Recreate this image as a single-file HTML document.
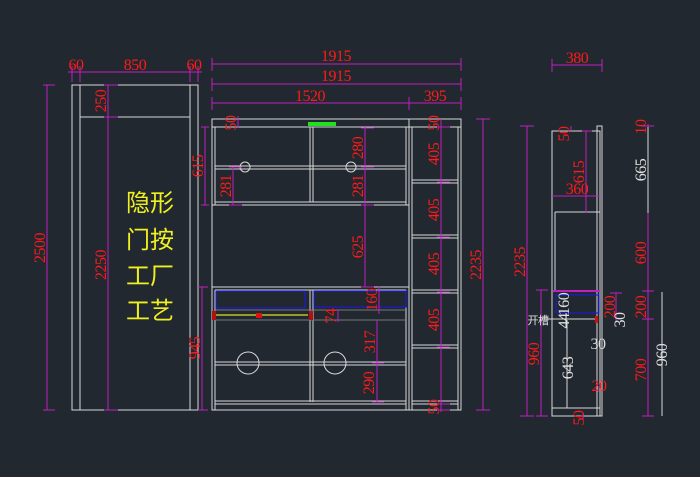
<!DOCTYPE html>
<html><head><meta charset="utf-8"><style>
html,body{margin:0;padding:0;background:#212830;}
svg{display:block}
.w{stroke:#d8d8d8;stroke-width:1;fill:none}
.m{stroke:#c020c0;stroke-width:1;fill:none}
.t{fill:#ff1a1a;font-family:"Liberation Serif",serif;font-size:16px;text-anchor:middle;letter-spacing:-0.5px}
.g{fill:#e0e0e0;font-family:"Liberation Serif",serif;font-size:16px;text-anchor:middle;letter-spacing:-0.5px}
.y{fill:#f0f020;font-family:"Liberation Sans","Noto Sans CJK SC",sans-serif;font-size:24px}
</style></head><body>
<svg width="700" height="477" viewBox="0 0 700 477" xmlns="http://www.w3.org/2000/svg">
<rect width="700" height="477" fill="#212830"/>
<!-- LEFT DOOR -->
<rect class="w" x="72" y="85" width="126" height="325"/>
<line class="w" x1="80" y1="85" x2="80" y2="410"/>
<line class="w" x1="190" y1="85" x2="190" y2="410"/>
<line class="w" x1="80" y1="117" x2="190" y2="117"/>
<g class="m">
<line x1="68" y1="72" x2="202" y2="72"/>
<line x1="72" y1="66" x2="72" y2="82"/><line x1="80" y1="66" x2="80" y2="82"/>
<line x1="190" y1="66" x2="190" y2="82"/><line x1="198" y1="66" x2="198" y2="82"/>
<line x1="47" y1="85" x2="47" y2="410"/><line x1="43" y1="85" x2="55" y2="85"/><line x1="43" y1="410" x2="55" y2="410"/>
<line x1="108" y1="85" x2="108" y2="410"/><line x1="104" y1="85" x2="118" y2="85"/><line x1="104" y1="117" x2="118" y2="117"/><line x1="104" y1="410" x2="118" y2="410"/>
</g>
<text class="t" x="76" y="70">60</text><text class="t" x="135" y="70">850</text><text class="t" x="194" y="70">60</text>
<text class="t" transform="translate(45,248) rotate(-90)">2500</text>
<text class="t" transform="translate(106,101) rotate(-90)">250</text>
<text class="t" transform="translate(106,265) rotate(-90)">2250</text>
<text class="y" x="126" y="211">隐形</text>
<text class="y" x="126" y="248">门按</text>
<text class="y" x="126" y="284">工厂</text>
<text class="y" x="126" y="319">工艺</text>
<!-- MIDDLE CABINET -->
<rect class="w" x="212" y="119" width="249" height="291"/>
<line class="w" x1="212" y1="127" x2="461" y2="127"/>
<line class="w" x1="409" y1="119" x2="409" y2="410"/>
<line class="w" x1="412" y1="127" x2="412" y2="410"/>
<line class="w" x1="458" y1="127" x2="458" y2="410"/>
<line class="w" x1="215" y1="127" x2="215" y2="205"/>
<line class="w" x1="406" y1="127" x2="406" y2="205"/>
<line class="w" x1="212" y1="205" x2="409" y2="205"/>
<line class="w" x1="215" y1="202" x2="406" y2="202"/>
<line class="w" x1="310" y1="127" x2="310" y2="202"/><line class="w" x1="313" y1="127" x2="313" y2="202"/>
<line class="w" x1="215" y1="166" x2="406" y2="166"/><line class="w" x1="215" y1="169" x2="406" y2="169"/>
<circle class="w" cx="245" cy="167" r="5"/><circle class="w" cx="351" cy="167" r="5"/>
<rect x="308" y="122" width="28" height="4" fill="#20e020"/>
<!-- lower -->
<line class="w" x1="212" y1="287" x2="409" y2="287"/>
<line class="w" x1="215" y1="290" x2="406" y2="290"/>
<line class="w" x1="215" y1="290" x2="215" y2="410"/>
<line class="w" x1="406" y1="290" x2="406" y2="410"/>
<line class="w" x1="310" y1="290" x2="310" y2="402"/><line class="w" x1="313" y1="290" x2="313" y2="402"/>
<rect x="216" y="291" width="89" height="17" fill="none" stroke="#1c1cd0" stroke-width="1.2"/>
<rect x="314" y="291" width="92" height="16" fill="none" stroke="#1c1cd0" stroke-width="1.2"/>
<line x1="215" y1="310" x2="406" y2="310" stroke="#777"/><line x1="215" y1="320" x2="406" y2="320" stroke="#777"/>
<rect x="212" y="311" width="4" height="9" fill="#b01010"/><rect x="309" y="311" width="4" height="9" fill="#b01010"/>
<line x1="216" y1="315" x2="308" y2="315" stroke="#e0e020" stroke-width="1.2"/>
<rect x="256" y="313" width="6" height="5" fill="#e01010"/>
<line class="w" x1="215" y1="362" x2="406" y2="362"/><line class="w" x1="215" y1="365" x2="406" y2="365"/>
<circle class="w" cx="248" cy="363" r="11"/><circle class="w" cx="335" cy="363" r="11"/>
<line class="w" x1="215" y1="401" x2="406" y2="401"/><line class="w" x1="215" y1="404" x2="406" y2="404"/>
<!-- right column shelves -->
<g class="w">
<line x1="412" y1="180" x2="458" y2="180"/><line x1="412" y1="183" x2="458" y2="183"/>
<line x1="412" y1="235" x2="458" y2="235"/><line x1="412" y1="238" x2="458" y2="238"/>
<line x1="412" y1="290" x2="458" y2="290"/><line x1="412" y1="293" x2="458" y2="293"/>
<line x1="412" y1="345" x2="458" y2="345"/><line x1="412" y1="348" x2="458" y2="348"/>
<line x1="412" y1="401" x2="458" y2="401"/><line x1="412" y1="404" x2="458" y2="404"/>
</g>
<!-- dims middle -->
<g class="m">
<line x1="212" y1="64" x2="461" y2="64"/><line x1="212" y1="58" x2="212" y2="71"/><line x1="461" y1="58" x2="461" y2="71"/>
<line x1="212" y1="84" x2="461" y2="84"/><line x1="212" y1="78" x2="212" y2="91"/><line x1="461" y1="78" x2="461" y2="91"/>
<line x1="212" y1="103" x2="461" y2="103"/><line x1="212" y1="97" x2="212" y2="110"/><line x1="409" y1="97" x2="409" y2="110"/><line x1="461" y1="97" x2="461" y2="110"/>
<line x1="483" y1="119" x2="483" y2="410"/><line x1="476" y1="119" x2="490" y2="119"/><line x1="476" y1="410" x2="490" y2="410"/>
<line x1="205" y1="127" x2="205" y2="205"/><line x1="201" y1="127" x2="209" y2="127"/><line x1="201" y1="205" x2="209" y2="205"/>
<line x1="202" y1="287" x2="202" y2="410"/><line x1="198" y1="287" x2="208" y2="287"/><line x1="198" y1="410" x2="208" y2="410"/>
<line x1="233" y1="167" x2="233" y2="205"/><line x1="229" y1="167" x2="242" y2="167"/><line x1="229" y1="205" x2="242" y2="205"/>
<line x1="365" y1="127" x2="365" y2="287"/><line x1="361" y1="128" x2="374" y2="128"/><line x1="361" y1="167" x2="374" y2="167"/><line x1="361" y1="205" x2="374" y2="205"/><line x1="361" y1="287" x2="374" y2="287"/>
<line x1="379" y1="286" x2="379" y2="314"/>
<line x1="338" y1="310" x2="338" y2="322"/>
<line x1="377" y1="320" x2="377" y2="402"/><line x1="372" y1="363" x2="384" y2="363"/><line x1="372" y1="402" x2="384" y2="402"/>
<line x1="441" y1="119" x2="441" y2="402"/>
<line x1="437" y1="127" x2="450" y2="127"/><line x1="437" y1="182" x2="450" y2="182"/><line x1="437" y1="237" x2="450" y2="237"/><line x1="437" y1="292" x2="450" y2="292"/><line x1="437" y1="347" x2="450" y2="347"/>
<line x1="441" y1="402" x2="441" y2="412"/><line x1="437" y1="404" x2="450" y2="404"/><line x1="437" y1="410" x2="450" y2="410"/>
<line x1="238" y1="116" x2="238" y2="128"/>
</g>
<text class="t" x="336" y="61">1915</text><text class="t" x="336" y="81">1915</text>
<text class="t" x="310" y="101">1520</text><text class="t" x="435" y="101">395</text>
<text class="t" transform="translate(481,265) rotate(-90)">2235</text>
<text class="t" transform="translate(203,166) rotate(-90)">615</text>
<text class="t" transform="translate(200,348) rotate(-90)">945</text>
<text class="t" transform="translate(231,186) rotate(-90)">281</text>
<text class="t" transform="translate(236,123) rotate(-90)">50</text>
<text class="t" transform="translate(363,148) rotate(-90)">280</text>
<text class="t" transform="translate(363,186) rotate(-90)">281</text>
<text class="t" transform="translate(363,247) rotate(-90)">625</text>
<text class="t" transform="translate(377,300) rotate(-90)">160</text>
<text class="t" transform="translate(336,316) rotate(-90)">74</text>
<text class="t" transform="translate(375,342) rotate(-90)">317</text>
<text class="t" transform="translate(374,383) rotate(-90)">290</text>
<text class="t" transform="translate(439,123) rotate(-90)">50</text>
<text class="t" transform="translate(439,154) rotate(-90)">405</text>
<text class="t" transform="translate(439,210) rotate(-90)">405</text>
<text class="t" transform="translate(439,264) rotate(-90)">405</text>
<text class="t" transform="translate(439,320) rotate(-90)">405</text>
<text class="t" transform="translate(439,407) rotate(-90)">50</text>
<!-- SIDE VIEW -->
<rect class="w" x="552" y="131" width="48" height="285"/>
<rect class="w" x="597" y="126" width="5" height="290"/>
<line class="w" x1="555" y1="212" x2="600" y2="212"/>
<line class="w" x1="555" y1="212" x2="555" y2="290"/>
<line x1="553" y1="291" x2="600" y2="291" stroke="#c020c0" stroke-width="2"/>
<rect x="556" y="295" width="43" height="18" fill="none" stroke="#1c1cd0" stroke-width="1.2"/>
<line class="w" x1="541" y1="319" x2="596" y2="319"/>
<rect x="595" y="316" width="3" height="7" fill="#d01010"/>
<line class="w" x1="552" y1="408" x2="600" y2="408"/>
<line class="w" x1="567" y1="320" x2="567" y2="408"/>
<g class="m">
<line x1="552" y1="65" x2="602" y2="65"/><line x1="552" y1="59" x2="552" y2="72"/><line x1="602" y1="59" x2="602" y2="72"/>
<line x1="527" y1="126" x2="527" y2="416"/><line x1="520" y1="126" x2="534" y2="126"/><line x1="520" y1="416" x2="534" y2="416"/>
<line x1="541" y1="290" x2="541" y2="416"/><line x1="536" y1="290" x2="548" y2="290"/><line x1="536" y1="416" x2="548" y2="416"/>
<line x1="552" y1="196" x2="600" y2="196"/>
<line x1="586" y1="131" x2="586" y2="213"/><line x1="582" y1="131" x2="592" y2="131"/>
<line x1="571" y1="126" x2="571" y2="131"/>
<line x1="616" y1="293" x2="616" y2="321"/><line x1="610" y1="293" x2="622" y2="293"/>
<line x1="648" y1="124" x2="648" y2="127"/><line x1="642" y1="126" x2="654" y2="126"/>
<line x1="648" y1="213" x2="648" y2="416"/><line x1="642" y1="291" x2="654" y2="291"/><line x1="642" y1="319" x2="654" y2="319"/><line x1="642" y1="416" x2="654" y2="416"/>
<line x1="583" y1="413" x2="583" y2="420"/><line x1="598" y1="386" x2="598" y2="392"/>
</g>
<line x1="648" y1="127" x2="648" y2="213" stroke="#d8d8d8"/>
<line x1="662" y1="292" x2="662" y2="416" stroke="#d8d8d8"/>
<text class="t" x="577" y="63">380</text>
<text class="t" x="577" y="194">360</text>
<text class="t" transform="translate(569,134) rotate(-90)">50</text>
<text class="t" transform="translate(584,172) rotate(-90)">615</text>
<text class="t" transform="translate(525,262) rotate(-90)">2235</text>
<text class="t" transform="translate(539,354) rotate(-90)">960</text>
<text class="t" transform="translate(615,307) rotate(-90)">200</text>
<text class="t" transform="translate(646,127) rotate(-90)">10</text>
<text class="g" transform="translate(646,170) rotate(-90)">665</text>
<text class="t" transform="translate(646,253) rotate(-90)">600</text>
<text class="t" transform="translate(646,307) rotate(-90)">200</text>
<text class="t" transform="translate(646,370) rotate(-90)">700</text>
<text class="g" transform="translate(667,355) rotate(-90)">960</text>
<text class="g" transform="translate(569,304) rotate(-90)">160</text>
<text class="g" transform="translate(569,321) rotate(-90)">44</text>
<text class="g" transform="translate(573,368) rotate(-90)">643</text>
<text class="g" x="598" y="349">30</text>
<text class="g" transform="translate(625,320) rotate(-90)">30</text>
<text class="t" x="599" y="391">20</text>
<text class="t" transform="translate(584,418) rotate(-90)">50</text>
<text class="g" x="538" y="324" style="font-size:11px;font-family:'Liberation Sans','Noto Sans CJK SC',sans-serif">开槽</text>
</svg>
</body></html>
